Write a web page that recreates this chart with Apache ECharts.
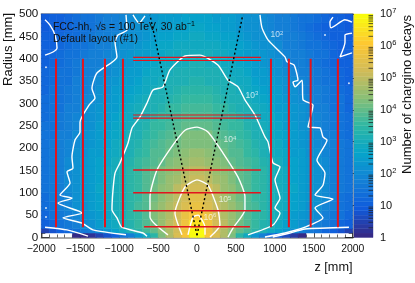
<!DOCTYPE html>
<html><head><meta charset="utf-8">
<style>html,body{margin:0;padding:0;background:#fff}#c{width:415px;height:283px}</style>
<script src="https://cdn.jsdelivr.net/npm/echarts@6/dist/echarts.min.js"></script>
</head><body><div id="c"></div>
<script>
// ---- data ----
const zEdges = [-2000,-1900,-1800,-1700,-1600,-1500,-1400,-1300,-1200,-1100,-1000,-900,-800,-700,-600,-500,-400,-300,-200,-100,0,100,200,300,400,500,600,700,800,900,1000,1100,1200,1300,1400,1500,1600,1700,1800,1900,2000];
const rEdges = [0,10,20,40,60,80,100,120,140,160,180,200,220,240,260,280,300,320,340,360,380,400,420,440,460,480,500];
// log10(decays) per cell, one row per radius bin, bottom row first; null = empty
const row000 = [null,null,null,null,0.1,0.1,0.2,0.5,0.7,1.0,1.4,1.8,2.3,2.9,3.4,4.2,4.8,5.4,5.9,7.0, 7.0,5.9,5.4,4.8,4.2,3.4,2.8,2.3,1.8,1.3,0.9,0.6,0.3,0.1,null,null,null,null,null,null];
const row010 = [0.5,0.8,1.0,1.2,1.4,1.6,1.8,2.0,2.3,2.6,2.8,3.1,3.4,3.7,4.0,4.4,4.8,5.3,5.8,7.0, 7.0,5.8,5.3,4.8,4.4,4.0,3.7,3.4,3.1,2.8,2.6,2.3,2.0,1.8,1.6,1.4,1.2,1.0,0.8,0.5];
const row020 = [1.0,1.2,1.4,1.6,1.7,2.0,2.2,2.4,2.7,2.9,3.1,3.3,3.5,3.8,4.1,4.5,4.9,5.3,5.8,6.5, 6.5,5.8,5.3,4.9,4.5,4.1,3.8,3.5,3.3,3.1,2.8,2.6,2.4,2.2,2.0,1.8,1.6,1.4,1.2,1.0];
const row040 = [1.2,1.4,1.6,1.8,1.9,2.1,2.3,2.5,2.7,3.0,3.1,3.4,3.6,3.8,4.2,4.5,4.8,5.2,5.6,6.0, 6.0,5.6,5.2,4.8,4.5,4.2,3.8,3.6,3.4,3.1,3.0,2.7,2.5,2.3,2.1,2.0,1.8,1.6,1.4,1.2];
const row060 = [1.3,1.5,1.7,1.9,2.1,2.2,2.4,2.6,2.8,3.0,3.2,3.4,3.7,3.9,4.2,4.5,4.8,5.1,5.4,5.7, 5.7,5.4,5.1,4.8,4.5,4.2,3.9,3.7,3.4,3.2,3.0,2.8,2.6,2.4,2.2,2.1,1.9,1.7,1.5,1.3];
const row080 = [1.3,1.6,1.8,1.9,2.1,2.3,2.4,2.6,2.8,3.0,3.2,3.4,3.6,3.9,4.1,4.4,4.7,5.0,5.3,5.5, 5.5,5.3,5.0,4.7,4.4,4.1,3.9,3.6,3.4,3.2,3.0,2.8,2.6,2.4,2.3,2.1,2.0,1.8,1.5,1.3];
const row100 = [1.4,1.6,1.8,2.0,2.2,2.3,2.5,2.7,2.8,3.0,3.2,3.4,3.6,3.9,4.1,4.4,4.6,4.9,5.2,5.3, 5.3,5.2,4.9,4.6,4.4,4.1,3.9,3.6,3.4,3.2,3.0,2.8,2.7,2.5,2.3,2.2,2.0,1.8,1.6,1.4];
const row120 = [1.4,1.6,1.8,2.0,2.1,2.3,2.5,2.6,2.8,3.0,3.2,3.4,3.6,3.8,4.0,4.3,4.5,4.7,5.0,5.1, 5.1,5.0,4.7,4.5,4.3,4.0,3.8,3.6,3.4,3.2,3.0,2.8,2.6,2.5,2.3,2.2,2.0,1.8,1.6,1.4];
const row140 = [1.5,1.6,1.8,2.0,2.1,2.3,2.4,2.6,2.8,3.0,3.2,3.4,3.6,3.8,4.0,4.2,4.4,4.6,4.8,4.9, 4.9,4.8,4.6,4.4,4.2,4.0,3.8,3.6,3.4,3.2,3.0,2.8,2.6,2.4,2.3,2.1,2.0,1.8,1.6,1.4];
const row160 = [1.5,1.6,1.8,2.0,2.1,2.3,2.4,2.6,2.7,3.0,3.1,3.3,3.5,3.7,3.9,4.0,4.3,4.4,4.6,4.7, 4.7,4.6,4.4,4.3,4.0,3.9,3.7,3.5,3.3,3.1,3.0,2.7,2.6,2.4,2.3,2.1,2.0,1.8,1.6,1.4];
const row180 = [1.4,1.6,1.8,1.9,2.1,2.2,2.4,2.5,2.7,2.9,3.0,3.2,3.4,3.6,3.8,3.9,4.1,4.3,4.4,4.5, 4.5,4.4,4.3,4.1,3.9,3.8,3.6,3.4,3.2,3.0,2.9,2.7,2.5,2.4,2.2,2.1,1.9,1.8,1.6,1.4];
const row200 = [1.4,1.6,1.7,1.9,2.0,2.2,2.3,2.5,2.6,2.8,3.0,3.2,3.3,3.5,3.7,3.8,4.0,4.1,4.3,4.3, 4.3,4.3,4.1,4.0,3.8,3.7,3.5,3.3,3.2,3.0,2.8,2.6,2.5,2.3,2.2,2.0,1.9,1.7,1.6,1.4];
const row220 = [1.4,1.5,1.7,1.8,2.0,2.1,2.3,2.4,2.6,2.7,2.9,3.1,3.2,3.4,3.6,3.7,3.9,4.0,4.2,4.2, 4.2,4.2,4.0,3.9,3.7,3.6,3.4,3.2,3.1,2.9,2.7,2.6,2.4,2.3,2.1,2.0,1.8,1.7,1.5,1.3];
const row240 = [1.4,1.5,1.6,1.8,1.9,2.1,2.2,2.4,2.5,2.7,2.8,3.0,3.2,3.3,3.5,3.6,3.7,3.9,4.0,4.0, 4.0,4.0,3.9,3.7,3.6,3.5,3.3,3.2,3.0,2.8,2.7,2.5,2.4,2.2,2.1,1.9,1.8,1.6,1.5,1.3];
const row260 = [1.3,1.5,1.6,1.7,1.9,2.0,2.2,2.3,2.5,2.6,2.8,2.9,3.1,3.2,3.4,3.5,3.6,3.7,3.8,3.9, 3.9,3.8,3.7,3.6,3.5,3.4,3.2,3.1,2.9,2.8,2.6,2.5,2.3,2.2,2.0,1.9,1.7,1.6,1.4,1.3];
const row280 = [1.3,1.4,1.5,1.7,1.8,2.0,2.1,2.3,2.4,2.5,2.7,2.8,3.0,3.1,3.2,3.3,3.5,3.6,3.7,3.7, 3.7,3.7,3.6,3.5,3.3,3.2,3.1,3.0,2.8,2.7,2.5,2.4,2.3,2.1,2.0,1.8,1.7,1.5,1.4,1.2];
const row300 = [1.3,1.4,1.5,1.6,1.8,1.9,2.0,2.2,2.3,2.4,2.6,2.7,2.9,3.0,3.1,3.2,3.3,3.4,3.5,3.6, 3.6,3.5,3.4,3.3,3.2,3.1,3.0,2.9,2.7,2.6,2.4,2.3,2.2,2.0,1.9,1.8,1.6,1.5,1.4,1.2];
const row320 = [1.2,1.4,1.5,1.6,1.7,1.8,1.9,2.1,2.2,2.4,2.5,2.6,2.7,2.9,3.0,3.1,3.2,3.3,3.4,3.4, 3.4,3.4,3.3,3.2,3.1,3.0,2.9,2.7,2.6,2.5,2.4,2.2,2.1,1.9,1.8,1.7,1.6,1.4,1.3,1.2];
const row340 = [1.2,1.3,1.4,1.5,1.7,1.8,1.9,2.0,2.1,2.3,2.4,2.5,2.6,2.8,2.9,3.0,3.1,3.2,3.2,3.3, 3.3,3.2,3.2,3.1,3.0,2.9,2.8,2.6,2.5,2.4,2.3,2.1,2.0,1.9,1.8,1.6,1.5,1.4,1.2,1.1];
const row360 = [1.2,1.3,1.4,1.5,1.6,1.7,1.8,1.9,2.0,2.2,2.3,2.4,2.5,2.7,2.8,2.9,3.0,3.1,3.1,3.2, 3.2,3.1,3.1,3.0,2.9,2.8,2.7,2.5,2.4,2.3,2.2,2.0,1.9,1.8,1.7,1.6,1.4,1.3,1.2,1.1];
const row380 = [1.1,1.2,1.3,1.5,1.6,1.7,1.7,1.8,1.9,2.1,2.2,2.3,2.4,2.6,2.7,2.8,2.9,3.0,3.0,3.1, 3.1,3.0,3.0,2.9,2.8,2.7,2.6,2.4,2.3,2.2,2.1,1.9,1.8,1.7,1.6,1.5,1.3,1.2,1.1,1.0];
const row400 = [1.1,1.2,1.3,1.4,1.5,1.6,1.7,1.8,1.9,2.0,2.1,2.3,2.4,2.5,2.6,2.7,2.8,2.9,3.0,3.0, 3.0,3.0,2.9,2.8,2.7,2.6,2.5,2.4,2.3,2.1,2.0,1.9,1.8,1.7,1.6,1.5,1.4,1.2,1.1,1.0];
const row420 = [1.0,1.1,1.2,1.3,1.4,1.5,1.6,1.7,1.8,2.0,2.1,2.2,2.3,2.4,2.6,2.7,2.7,2.8,2.9,2.9, 2.9,2.9,2.8,2.7,2.7,2.6,2.4,2.3,2.2,2.1,2.0,1.8,1.7,1.6,1.5,1.4,1.3,1.2,1.1,1.0];
const row440 = [1.0,1.1,1.2,1.3,1.3,1.5,1.6,1.7,1.8,1.9,2.0,2.1,2.2,2.3,2.5,2.6,2.6,2.7,2.7,2.8, 2.8,2.7,2.7,2.6,2.6,2.5,2.3,2.2,2.1,2.0,1.9,1.8,1.7,1.6,1.5,1.3,1.2,1.1,1.0,0.9];
const row460 = [0.9,1.0,1.1,1.2,1.3,1.4,1.5,1.6,1.7,1.8,1.9,2.0,2.1,2.3,2.4,2.5,2.5,2.6,2.6,2.7, 2.7,2.6,2.6,2.5,2.4,2.3,2.2,2.1,2.0,1.9,1.8,1.7,1.6,1.4,1.3,1.2,1.1,1.1,1.0,0.9];
const row480 = [0.9,1.0,1.1,1.2,1.3,1.4,1.5,1.6,1.7,1.8,1.9,2.0,2.1,2.2,2.3,2.4,2.5,2.5,2.6,2.6, 2.6,2.6,2.5,2.5,2.4,2.3,2.2,2.1,2.0,1.9,1.8,1.7,1.6,1.5,1.4,1.3,1.2,1.1,1.0,0.9];
const logRows = [row000,row010,row020,row040,row060,row080,row100,row120,row140,row160,row180,row200,row220,row240,row260,row280,row300,row320,row340,row360,row380,row400,row420,row440,row460,row480];

// contours [z, r]
const c1TopLeft = [[-1952,487],[-1888,475],[-1824,453],[-1798,424],[-1850,415],[-1952,408]];
const c1BottomLeft = [[-1952,23],[-1670,17],[-1400,3]];
const c1TopMid = [[-822,498],[-745,480],[-668,496]];
const c1TopRightA = [[1747,493],[1708,482],[1721,469],[1900,487],[1990,482]];
const c1TopRightB = [[1990,457],[1901,453],[1901,437],[1837,404],[1990,413]];
const c1BottomRight = [[1952,23],[1387,19],[1170,9],[973,1]];
const c1Dots = [[1644,453],[1952,345],[-1940,381],[-1940,66],[-1940,46]];
const c2Left = [[-912,498],[-899,464],[-1015,453],[-1053,437],[-1028,404],[-1285,368],[-1349,334],[-1310,312],[-1387,296],[-1503,258],[-1503,236],[-1567,218],[-1606,180],[-1593,155],[-1670,147],[-1631,122],[-1760,95],[-1606,88],[-1786,77],[-1477,55],[-1721,44],[-1477,32],[-1336,17],[-912,6]];
const c2Right = [[809,498],[835,469],[912,442],[1130,404],[1156,393],[1246,386],[1297,352],[1233,348],[1259,337],[1349,352],[1362,308],[1490,296],[1426,247],[1580,245],[1618,225],[1670,218],[1541,173],[1644,144],[1618,117],[1516,95],[1747,86],[1516,66],[1618,44],[1387,23],[1130,10],[873,1]];
const c3 = [[-642,3],[-694,10],[-965,23],[-1028,44],[-1092,62],[-1079,106],[-1053,144],[-990,167],[-887,211],[-835,245],[-732,270],[-642,301],[-565,330],[-437,337],[-347,375],[-154,406],[38,408],[269,386],[398,352],[527,337],[616,308],[745,274],[873,225],[912,214],[976,167],[1066,158],[1002,129],[1066,88],[1002,66],[1066,55],[976,28],[655,6]];
const c4 = [[-373,6],[-604,46],[-604,91],[-514,151],[-308,207],[-154,240],[0,247],[141,236],[334,189],[527,135],[616,91],[616,62],[462,21],[398,1]];
const c5 = [[-193,6],[-283,55],[-154,113],[0,129],[141,117],[270,62],[295,28],[167,1]];
const c6 = [[-116,6],[-51,46],[13,50],[103,23],[103,6]];
const contourLines = [c1TopLeft,c1BottomLeft,c1TopMid,c1TopRightA,c1TopRightB,c1BottomRight,c2Left,c2Right,c3,c4,c5,c6];
const contourLabels = [[1027,453,'2'],[706,317,'3'],[424,218,'4'],[360,84,'5'],[167,44,'6']];

// detector layout
const discZ = [-1811,-1465,-1182,-951,950,1180,1460,1810];
const discR = [23,400];
const layerRadii = [24,60,100,151];
const layerHalfLengths = [680,820,820,820];
const doubleLayerRadii = [267,274,396,403];
const doubleLayerHalfLength = 820;
const etaLines = [[[0,5],[-604,498]],[[0,5],[588,498]]];

// axis ticks and colour scale
const zTicks = {min:-2000,max:2000,step:500};
const rTicks = {min:0,max:500,step:50};
const colorDecades = [1,10,100,1000,10000,100000,1000000,10000000];
const minorMultipliers = [2,3,4,5,6,7,8,9];
const birdPalette = [[53,42,135],[15,92,221],[20,129,214],[6,164,202],[46,183,164],[135,191,119],[209,187,89],[254,200,50],[249,251,14]];
const nLevels = 50, maxLog = 7;

function levelColor(i){
  const t=i/(nLevels-1)*(birdPalette.length-1), a=Math.min(Math.floor(t),birdPalette.length-2), f=t-a;
  const c=birdPalette[a].map((v,k)=>Math.round(v+(birdPalette[a+1][k]-v)*f));
  return 'rgb('+c.join(',')+')';
}
function logColor(v){ return levelColor(Math.max(0,Math.min(nLevels-1,Math.floor(v/maxLog*nLevels)))); }

const cells=[];
logRows.forEach((row,j)=>row.forEach((v,i)=>{ if(v!==null) cells.push([zEdges[i],zEdges[i+1],rEdges[j],rEdges[j+1],v]); }));
const barCells=[];
for(let i=0;i<nLevels;i++) barCells.push([0,1,Math.pow(10,i*maxLog/nLevels),Math.pow(10,(i+1)*maxLog/nLevels),i]);
const minorVals=[];
colorDecades.slice(0,-1).forEach(d=>minorMultipliers.forEach(m=>minorVals.push([1,d*m])));

const font='"Liberation Sans",Arial,sans-serif';
const tick=(len)=>({show:true,inside:true,length:len,lineStyle:{color:'#222',width:1,opacity:.8}});
const minor=(len)=>({show:true,splitNumber:5,length:len,lineStyle:{color:'#222',width:1,opacity:.7}});
const axisLine={show:true,onZero:false,lineStyle:{color:'#8c8c8c',width:1.5}};
const L={left:41.3,top:14,width:311.4,height:223.5};

const series=[];
series.push({type:'custom',coordinateSystem:'cartesian2d',xAxisIndex:0,yAxisIndex:0,silent:true,z:1,
  dimensions:['z0','z1','r0','r1','v'],encode:{x:[0,1],y:[2,3]},data:cells,
  renderItem:(p,api)=>{
    const a=api.coord([api.value(0),api.value(3)]),b=api.coord([api.value(1),api.value(2)]);
    const col=logColor(api.value(4));
    return {type:'rect',shape:{x:a[0],y:a[1],width:b[0]-a[0],height:b[1]-a[1]},style:{fill:col,stroke:col,lineWidth:.5}};
  }});
contourLines.forEach(c=>series.push({type:'line',data:c,xAxisIndex:0,yAxisIndex:0,showSymbol:false,smooth:.2,silent:true,z:3,lineStyle:{color:'#fff',width:1.4}}));
series.push({type:'scatter',data:c1Dots,xAxisIndex:0,yAxisIndex:0,symbolSize:2,silent:true,z:3,itemStyle:{color:'#fff'}});
discZ.forEach(z=>series.push({type:'line',data:discR.map(r=>[z,r]),xAxisIndex:0,yAxisIndex:0,showSymbol:false,silent:true,z:4,lineStyle:{color:'#e2141e',width:2}}));
layerRadii.forEach((r,i)=>series.push({type:'line',data:[[-layerHalfLengths[i],r],[layerHalfLengths[i],r]],xAxisIndex:0,yAxisIndex:0,showSymbol:false,silent:true,z:4,lineStyle:{color:'#e2141e',width:1.5}}));
doubleLayerRadii.forEach(r=>series.push({type:'line',data:[[-doubleLayerHalfLength,r],[doubleLayerHalfLength,r]],xAxisIndex:0,yAxisIndex:0,showSymbol:false,silent:true,z:4,lineStyle:{color:'#e2141e',width:1.1}}));
etaLines.forEach(l=>series.push({type:'line',data:l,xAxisIndex:0,yAxisIndex:0,showSymbol:false,silent:true,z:5,lineStyle:{color:'#000',width:1.4,type:[2,2.5]}}));
series.push({type:'scatter',data:contourLabels,xAxisIndex:0,yAxisIndex:0,symbolSize:0,silent:true,z:6,
  label:{show:true,position:'inside',fontFamily:font,fontSize:8.5,color:'#eef',
    formatter:p=>'{b|10}{s|'+p.value[2]+'}',rich:{b:{fontSize:8.5,color:'rgba(255,255,255,.9)',fontFamily:font},s:{fontSize:6,color:'rgba(255,255,255,.9)',padding:[0,0,4,0],fontFamily:font}}}});
series.push({type:'custom',coordinateSystem:'cartesian2d',xAxisIndex:2,yAxisIndex:2,silent:true,z:1,
  dimensions:['a','b','lo','hi','i'],encode:{x:[0,1],y:[2,3]},data:barCells,
  renderItem:(p,api)=>{
    const a=api.coord([api.value(0),api.value(3)]),b=api.coord([api.value(1),api.value(2)]);
    const col=levelColor(api.value(4));
    return {type:'rect',shape:{x:a[0],y:a[1],width:b[0]-a[0],height:b[1]-a[1]},style:{fill:col,stroke:col,lineWidth:.4}};
  }});
series.push({type:'custom',coordinateSystem:'cartesian2d',xAxisIndex:2,yAxisIndex:2,silent:true,z:3,
  dimensions:['x','y'],encode:{x:0,y:1},data:minorVals,
  renderItem:(p,api)=>{
    const a=api.coord([api.value(0),api.value(1)]);
    return {type:'line',shape:{x1:a[0],y1:a[1],x2:a[0]-4.5,y2:a[1]},style:{stroke:'#222',lineWidth:1,opacity:.75}};
  }});

const chart=echarts.init(document.getElementById('c'),null,{renderer:'canvas'});
chart.setOption({
  animation:false,backgroundColor:'#fff',textStyle:{fontFamily:font},
  grid:[L,L,{left:354,top:14,width:19,height:223.5}],
  xAxis:[
    {type:'value',gridIndex:0,position:'bottom',min:zTicks.min,max:zTicks.max,interval:zTicks.step,axisLine,axisTick:tick(6),minorTick:minor(3),splitLine:{show:false},
      axisLabel:{fontFamily:font,fontSize:10.4,color:'#111',margin:7,hideOverlap:false,formatter:v=>String(v).replace('-','\u2212')}},
    {type:'value',gridIndex:1,position:'top',min:zTicks.min,max:zTicks.max,interval:zTicks.step,axisLine,axisTick:tick(6),minorTick:minor(3),splitLine:{show:false},axisLabel:{show:false}},
    {type:'value',gridIndex:2,min:0,max:1,show:false}
  ],
  yAxis:[
    {type:'value',gridIndex:0,position:'left',min:rTicks.min,max:rTicks.max,interval:rTicks.step,axisLine,axisTick:tick(8),minorTick:minor(4),splitLine:{show:false},
      axisLabel:{fontFamily:font,fontSize:11.6,color:'#111',margin:3,showMinLabel:true,showMaxLabel:true}},
    {type:'value',gridIndex:1,position:'right',min:rTicks.min,max:rTicks.max,interval:rTicks.step,axisLine,axisTick:tick(8),minorTick:minor(4),splitLine:{show:false},axisLabel:{show:false}},
    {type:'log',logBase:10,gridIndex:2,position:'right',min:1,max:10000000,axisLine:{show:false},axisTick:{show:true,inside:true,length:9,lineStyle:{color:'#222',width:1,opacity:.8}},minorTick:{show:false},splitLine:{show:false},
      axisLabel:{fontFamily:font,fontSize:11,color:'#111',margin:7,showMinLabel:true,showMaxLabel:true,
        formatter:v=>{const e=Math.round(Math.log10(v));return e===0?'1':e===1?'10':'{b|10}{s|'+e+'}';},
        rich:{b:{fontSize:11,color:'#111',fontFamily:font},s:{fontSize:7.5,color:'#111',padding:[0,0,6,0],fontFamily:font}}}}
  ],
  series,
  graphic:[
    {type:'text',x:53,y:27,z:20,style:{rich:{t:{fontSize:10.4,fontFamily:font,fill:'#111',color:'#111'},s:{fontSize:7,fontFamily:font,color:'#111',padding:[0,0,5,0]}},text:'{t|FCC-hh, \u221As = 100 TeV, 30 ab}{s|\u22121}',verticalAlign:'middle',align:'left'}},
    {type:'text',x:53,y:39,z:20,style:{text:'Default layout (#1)',fontSize:10.4,fontFamily:font,fill:'#111',verticalAlign:'middle',align:'left'}},
    {type:'text',x:352.5,y:267,z:20,style:{text:'z [mm]',fontSize:12.7,fontFamily:font,fill:'#111',verticalAlign:'middle',align:'right'}},
    {type:'text',x:8,y:13,rotation:Math.PI/2,z:20,style:{text:'Radius [mm]',fontSize:13,fontFamily:font,fill:'#111',verticalAlign:'middle',align:'right'}},
    {type:'text',x:407,y:15,rotation:Math.PI/2,z:20,style:{text:'Number of chargino decays',fontSize:13,fontFamily:font,fill:'#111',verticalAlign:'middle',align:'right'}}
  ]
});
</script></body></html>
